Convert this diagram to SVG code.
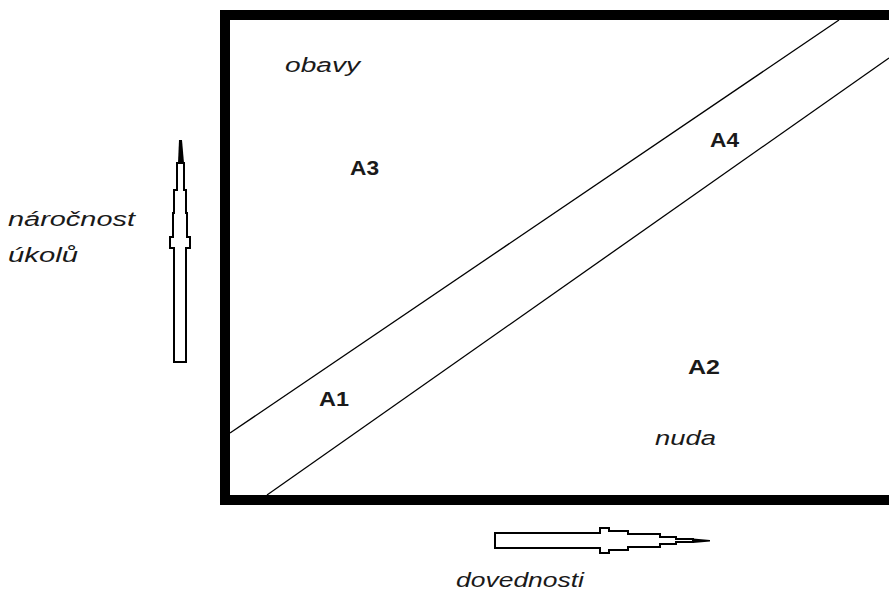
<svg xmlns="http://www.w3.org/2000/svg" width="889" height="592" viewBox="0 0 889 592">
<style>
.lbl{font-family:"Liberation Sans",Arial,sans-serif;font-size:20px;fill:#1a1a1a}
.it{font-style:italic}
.bd{font-weight:bold}
.ln{stroke:#000;stroke-width:1.3;fill:none}
.arr{fill:#fff;stroke:#000;stroke-width:2}
.tip{fill:#000}
</style>
<rect width="889" height="592" fill="#fff"/>
<g id="frame">
<rect x="225" y="15" width="700" height="485" fill="none" stroke="#000" stroke-width="10"/>
</g>
<g id="connectors">
<line class="ln" x1="230" y1="433" x2="839" y2="20"/>
<line class="ln" x1="267" y1="495" x2="889" y2="58"/>
</g>
<g id="arrow-up">
<polygon class="arr" points="174,362 174,248 170,248 170,237 173,237 173,213 174,213 174,190 177,190 177,163 184,163 184,190 186,190 186,213 187,213 187,237 190,237 190,248 186,248 186,362"/>
<polygon class="tip" points="178,163 179,140 182,140 184,163"/>
</g>
<g id="arrow-right">
<polygon class="arr" points="495,533 600,533 600,528 609,528 609,531 628,531 628,534 660,534 660,537 676,537 676,539 693,539 693,542 676,542 676,544 660,544 660,547 628,547 628,550 609,550 609,553 600,553 600,548 495,548"/>
<polygon class="tip" points="693,538.5 710,540 710,541.5 693,543"/>
</g>
<g id="label-obavy"><text class="lbl it" x="285" y="72" textLength="75" lengthAdjust="spacingAndGlyphs">obavy</text></g>
<g id="label-A3"><text class="lbl bd" x="350" y="175" textLength="29" lengthAdjust="spacingAndGlyphs">A3</text></g>
<g id="label-A4"><text class="lbl bd" x="710" y="147" textLength="29" lengthAdjust="spacingAndGlyphs">A4</text></g>
<g id="label-A1"><text class="lbl bd" x="319" y="406" textLength="30" lengthAdjust="spacingAndGlyphs">A1</text></g>
<g id="label-A2"><text class="lbl bd" x="688" y="374" textLength="32" lengthAdjust="spacingAndGlyphs">A2</text></g>
<g id="label-nuda"><text class="lbl it" x="655" y="445" textLength="61" lengthAdjust="spacingAndGlyphs">nuda</text></g>
<g id="label-narocnost">
<text class="lbl it" x="8" y="226" textLength="127" lengthAdjust="spacingAndGlyphs">náročnost</text>
<text class="lbl it" x="8" y="262" textLength="70" lengthAdjust="spacingAndGlyphs">úkolů</text>
</g>
<g id="label-dovednosti"><text class="lbl it" x="456" y="587" textLength="128" lengthAdjust="spacingAndGlyphs">dovednosti</text></g>
</svg>
